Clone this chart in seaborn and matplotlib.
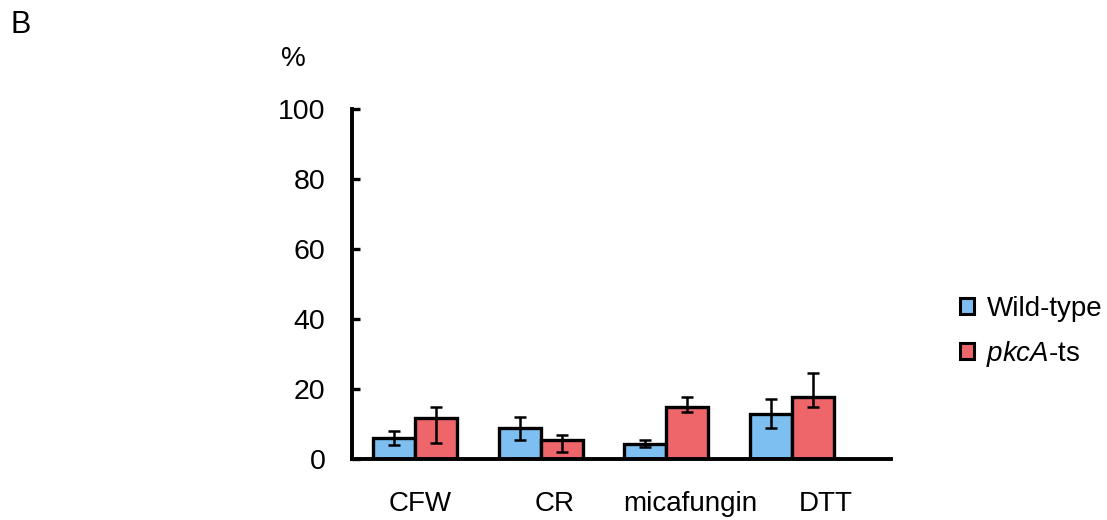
import matplotlib
matplotlib.use("Agg")
import matplotlib.pyplot as plt
import matplotlib.transforms as mtransforms
import seaborn as sns
import pandas as pd
import numpy as np
from matplotlib.patches import Patch

sns.set_theme(style="white")
plt.rcParams["font.family"] = ["Liberation Sans", "DejaVu Sans"]
plt.rcParams["text.color"] = "black"
plt.rcParams["mathtext.fontset"] = "custom"
plt.rcParams["mathtext.rm"] = "Liberation Sans"
plt.rcParams["mathtext.it"] = "Liberation Sans:italic"

# Percent of abnormal cells per treatment
treatments = ["CFW", "CR", "micafungin", "DTT"]
strains = ["Wild-type", "$\\it{pkcA}$-ts"]
wild_type = [6.0, 8.8, 4.4, 12.9]
pkca_ts = [11.7, 5.3, 15.0, 17.6]
# error bar lengths below / above each mean
wild_type_err_low = [1.9, 3.3, 1.1, 4.0]
wild_type_err_high = [1.9, 3.1, 0.9, 4.3]
pkca_ts_err_low = [7.0, 3.2, 1.6, 2.7]
pkca_ts_err_high = [3.1, 1.6, 2.7, 7.1]
y_ticks = [0, 20, 40, 60, 80, 100]

colors = ["#7DBFF0", "#EE666A"]

df = pd.DataFrame({
    "treatment": treatments * 2,
    "strain": [strains[0]] * 4 + [strains[1]] * 4,
    "value": wild_type + pkca_ts,
})

fig = plt.figure(figsize=(11.07, 5.2), dpi=100)
ax = fig.add_axes([352 / 1107, 1 - 459 / 520, (891 - 352) / 1107, 350 / 520])

sns.barplot(data=df, x="treatment", y="value", hue="strain", order=treatments,
            hue_order=strains, palette=colors, saturation=1, width=0.667,
            gap=0, errorbar=None, edgecolor="black", linewidth=2.4, ax=ax,
            legend=False)

# asymmetric error bars on the bar centres
err_low = [wild_type_err_low, pkca_ts_err_low]
err_high = [wild_type_err_high, pkca_ts_err_high]
means = [wild_type, pkca_ts]
bar_containers = list(ax.containers)
for k, container in enumerate(bar_containers):
    xs = [p.get_x() + p.get_width() / 2 for p in container.patches]
    ax.errorbar(xs, means[k], yerr=[err_low[k], err_high[k]], fmt="none",
                ecolor="black", elinewidth=1.8, capsize=4.5, capthick=1.8,
                zorder=5)

ax.set_ylim(0, 100)
ax.set_xlim(-0.5, 3.786)
ax.set_yticks(y_ticks)
ax.set_xlabel("")
ax.set_ylabel("")
for side in ["top", "right"]:
    ax.spines[side].set_visible(False)
for side in ["left", "bottom"]:
    ax.spines[side].set_linewidth(2.8)
    ax.spines[side].set_color("black")
    ax.spines[side].set_capstyle("projecting")
ax.tick_params(axis="y", direction="in", length=6, width=2.4, pad=19,
               labelsize=20.5, left=True, colors="black")
ax.tick_params(axis="x", length=0, pad=23, labelsize=20, colors="black")

# category labels sit progressively further right of their groups
label_shift_pt = [4, 10, 17, 24]
for lab, dx in zip(ax.get_xticklabels(), label_shift_pt):
    lab.set_transform(lab.get_transform() +
                      mtransforms.ScaledTranslation(dx / 72, 0, fig.dpi_scale_trans))

handles = [Patch(facecolor=c, edgecolor="black", linewidth=2.2) for c in colors]
fig.legend(handles, strains, loc="center left",
           bbox_to_anchor=(960 / 1107, 1 - 332.5 / 520), frameon=False,
           fontsize=20, handlelength=0.5, handleheight=0.5,
           handletextpad=0.45, labelspacing=0.62, borderpad=0,
           borderaxespad=0, labelcolor="black")

fig.text(293 / 1107, 1 - 59 / 520, "%", ha="center", va="center", fontsize=20)
fig.text(21 / 1107, 1 - 25 / 520, "B", ha="center", va="center", fontsize=22)

fig.savefig("out.png", dpi=100)
